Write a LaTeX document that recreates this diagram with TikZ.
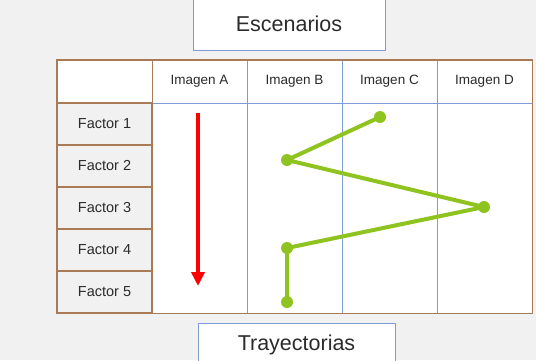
\documentclass[tikz,border=0pt]{standalone}
\usepackage{fontspec}
\setmainfont{Liberation Sans}
\usepackage{xcolor}
\usetikzlibrary{arrows.meta, positioning}

\definecolor{frame}{HTML}{A87B56}
\definecolor{grid}{HTML}{7F9BDB}
\definecolor{trail}{HTML}{8FC31F}
\definecolor{paper}{HTML}{F1F1F1}
\definecolor{ink}{HTML}{2B2B2B}

\begin{document}
\begin{tikzpicture}[
    x=1pt, y=-1pt,
    title/.style={rectangle, draw=grid, fill=white, thin, text=ink, minimum width=192pt, font=\fontsize{21.5}{23}\selectfont},
    factor/.style={rectangle, draw=frame, line width=1.6pt, fill=paper, text=ink, minimum width=95pt, minimum height=42pt, font=\fontsize{14.5}{16}\selectfont},
    column/.style={rectangle, draw=grid, fill=white, line width=0.6pt, minimum width=95pt, minimum height=253pt, inner sep=0pt},
    header/.style={rectangle, draw=grid, line width=0.6pt, text=ink, minimum width=95pt, minimum height=43pt, font=\fontsize{13.5}{15}\selectfont},
    dot/.style={circle, fill=trail, minimum size=12pt, inner sep=0pt},
    trend/.style={-{Triangle[length=14pt, width=13pt]}, line width=3.6pt, red},
    trailline/.style={line width=4pt, trail, line join=round},
]
\useasboundingbox (0,0) rectangle (536,360);
\fill[paper] (0,0) rectangle (536,360);

% Titles
\node[title, minimum height=52pt] (esc) at (289,24) {Escenarios};
\node[title, minimum width=197pt, minimum height=44pt, anchor=north] (tray) at (296.5,323) {\raisebox{-3pt}{Trayectorias}};

% Columns and headers
\foreach \name [count=\i] in {A,B,C,D} {
  \node[column] (col\name) at (104.5+95*\i,186.5) {};
  \node[header] (img\name) at (104.5+95*\i,81.5) {Imagen \name};
}
\node[header, draw=frame, fill=white] (corner) at (104.5,81.5) {};

% Factors
\foreach \i in {1,...,5} {
  \node[factor] (f\i) at (104.5,82+42*\i) {Factor \i};
}

% Outer frame
\draw[frame, line width=1.6pt] (corner.north west) rectangle (colD.south east);

% Red arrow
\coordinate (redtop) at (198,113);
\coordinate (redend) at (198,286);
\draw[trend] (redtop) -- (redend);

% Green path
\node[dot] (p1) at (380,117) {};
\node[dot] (p2) at (287,160) {};
\node[dot] (p3) at (484,207) {};
\node[dot] (p4) at (287,248) {};
\node[dot] (p5) at (287,302) {};
\draw[trailline] (p1.center) -- (p2.center) -- (p3.center) -- (p4.center) -- (p5.center);

\end{tikzpicture}
\end{document}
